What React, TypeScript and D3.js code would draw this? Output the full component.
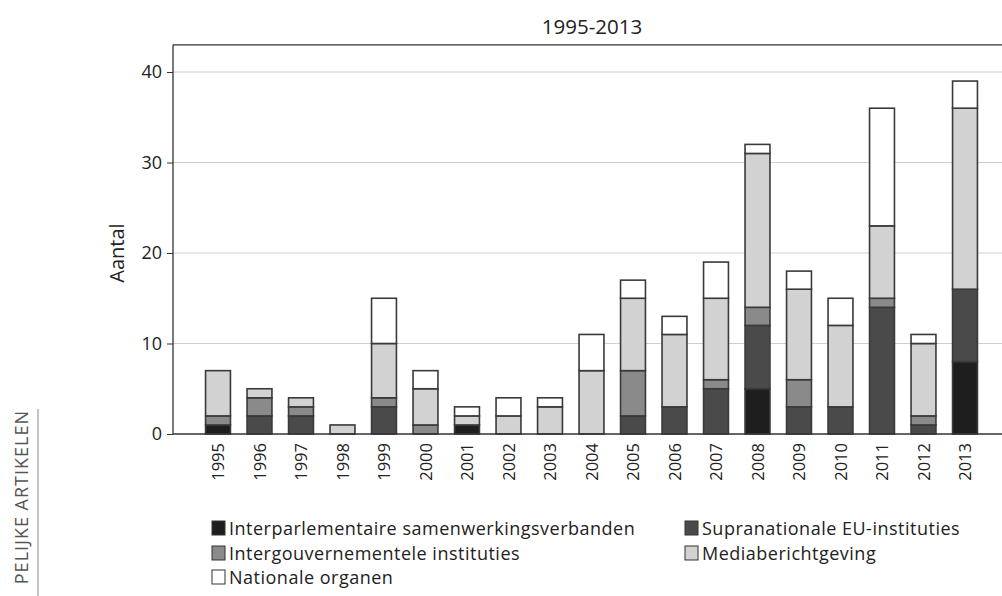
import * as d3 from "d3";
import { useEffect, useRef } from "react";

const years = [
  "1995", "1996", "1997", "1998", "1999", "2000", "2001", "2002", "2003", "2004",
  "2005", "2006", "2007", "2008", "2009", "2010", "2011", "2012", "2013",
];
const interparlementair = [1, 0, 0, 0, 0, 0, 1, 0, 0, 0, 0, 0, 0, 5, 0, 0, 0, 0, 8];
const supranationaal = [0, 2, 2, 0, 3, 0, 0, 0, 0, 0, 2, 3, 5, 7, 3, 3, 14, 1, 8];
const intergouvernementeel = [1, 2, 1, 0, 1, 1, 0, 0, 0, 0, 5, 0, 1, 2, 3, 0, 1, 1, 0];
const media = [5, 1, 1, 1, 6, 4, 1, 2, 3, 7, 8, 8, 9, 17, 10, 9, 8, 8, 20];
const nationaal = [0, 0, 0, 0, 5, 2, 1, 2, 1, 4, 2, 2, 4, 1, 2, 3, 13, 1, 3];

const seriesNames = [
  "Interparlementaire samenwerkingsverbanden",
  "Supranationale EU-instituties",
  "Intergouvernementele instituties",
  "Mediaberichtgeving",
  "Nationale organen",
];
const seriesValues = [interparlementair, supranationaal, intergouvernementeel, media, nationaal];
const seriesColors = ["#1e1e1e", "#4a4a4a", "#8a8a8a", "#d2d2d2", "#ffffff"];
const yTicks = [0, 10, 20, 30, 40];

const W = 1002;
const H = 596;
const FONT = "'Open Sans', 'Noto Sans', sans-serif";

const App = () => {
  const ref = useRef<SVGSVGElement | null>(null);

  useEffect(() => {
    if (!ref.current) return;
    const svg = d3.select(ref.current);
    svg.selectAll("*").remove();

    const rows = years.map((year, i) => {
      const row: Record<string, number | string> = { year };
      seriesNames.forEach((name, s) => (row[name] = seriesValues[s][i]));
      return row;
    });
    const stacked = d3.stack<Record<string, number | string>>().keys(seriesNames)(rows as any);

    const left = 173;
    // step 41.5, bar 25 wide, first bar centred at 218
    const x = d3.scaleBand<string>().domain(years).range([197.25, 985.75]).paddingInner(0.4).paddingOuter(0.2);
    const y = d3.scaleLinear().domain([0, 40]).range([434, 72]);
    const top = y(43);

    // grid
    svg
      .append("g")
      .selectAll("line")
      .data(yTicks.filter((t) => t > 0))
      .join("line")
      .attr("x1", left)
      .attr("x2", W)
      .attr("y1", (d) => y(d))
      .attr("y2", (d) => y(d))
      .attr("stroke", "#cfcfcf")
      .attr("stroke-width", 1.2);

    // frame
    svg.append("line").attr("x1", left).attr("x2", W).attr("y1", top).attr("y2", top).attr("stroke", "#333").attr("stroke-width", 1.3);
    svg.append("line").attr("x1", left).attr("x2", left).attr("y1", top).attr("y2", y(0)).attr("stroke", "#333").attr("stroke-width", 1.3);

    // bars
    const colorOf = d3.scaleOrdinal<string>().domain(seriesNames).range(seriesColors);
    svg
      .append("g")
      .selectAll("g")
      .data(stacked)
      .join("g")
      .attr("fill", (d) => colorOf(d.key))
      .selectAll("rect")
      .data((d) => d.filter((p) => p[1] - p[0] > 0))
      .join("rect")
      .attr("x", (d) => x(d.data.year as string)!)
      .attr("width", x.bandwidth())
      .attr("y", (d) => y(d[1]))
      .attr("height", (d) => y(d[0]) - y(d[1]))
      .attr("stroke", "#3a3a3a")
      .attr("stroke-width", 1.6);

    // baseline
    svg.append("line").attr("x1", left).attr("x2", W).attr("y1", y(0)).attr("y2", y(0)).attr("stroke", "#333").attr("stroke-width", 1.3);

    // y axis
    const yAxis = svg
      .append("g")
      .attr("transform", `translate(${left},0)`)
      .call(d3.axisLeft(y).tickValues(yTicks).tickSize(6).tickPadding(5));
    yAxis.select(".domain").remove();
    yAxis.selectAll("line").attr("stroke", "#333");
    yAxis.selectAll("text").attr("font-family", FONT).attr("font-size", 18).attr("fill", "#222");

    // x labels
    svg
      .append("g")
      .selectAll("text")
      .data(years)
      .join("text")
      .attr("transform", (d) => `translate(${x(d)! + x.bandwidth() / 2 + 6},443) rotate(-90)`)
      .attr("text-anchor", "end")
      .attr("font-family", FONT)
      .attr("font-size", 16.5)
      .attr("fill", "#222")
      .text((d) => d);

    // titles
    svg
      .append("text")
      .attr("x", 592)
      .attr("y", 34)
      .attr("text-anchor", "middle")
      .attr("font-family", FONT)
      .attr("font-size", 20.5)
      .attr("fill", "#222")
      .text("1995-2013");
    svg
      .append("text")
      .attr("transform", "translate(124,253) rotate(-90)")
      .attr("text-anchor", "middle")
      .attr("font-family", FONT)
      .attr("font-size", 20)
      .attr("fill", "#222")
      .text("Aantal");

    // legend
    const legendPos = [
      [212, 528],
      [685, 528],
      [212, 553],
      [685, 553],
      [212, 577],
    ];
    const legend = svg
      .append("g")
      .selectAll("g")
      .data(seriesNames)
      .join("g")
      .attr("transform", (_, i) => `translate(${legendPos[i][0]},${legendPos[i][1]})`);
    legend
      .append("rect")
      .attr("x", 0)
      .attr("y", -7)
      .attr("width", 13)
      .attr("height", 14)
      .attr("fill", (d) => colorOf(d))
      .attr("stroke", "#333")
      .attr("stroke-width", 1);
    legend
      .append("text")
      .attr("x", 17)
      .attr("y", 6.5)
      .attr("font-family", FONT)
      .attr("font-size", 18)
      .attr("letter-spacing", 0.5)
      .attr("fill", "#222")
      .text((d) => d);

    // side running head
    svg
      .append("text")
      .attr("transform", "translate(28,410) rotate(-90)")
      .attr("text-anchor", "end")
      .attr("font-family", FONT)
      .attr("font-size", 18)
      .attr("letter-spacing", 1)
      .attr("fill", "#555")
      .text("PELIJKE ARTIKELEN");
    svg.append("line").attr("x1", 38).attr("x2", 38).attr("y1", 409).attr("y2", H).attr("stroke", "#888").attr("stroke-width", 1);
  }, []);

  return (
    <svg
      ref={ref}
      width={W}
      height={H}
      style={{ position: "absolute", left: 0, top: 0, background: "#fff" }}
    />
  );
};

export default App;
